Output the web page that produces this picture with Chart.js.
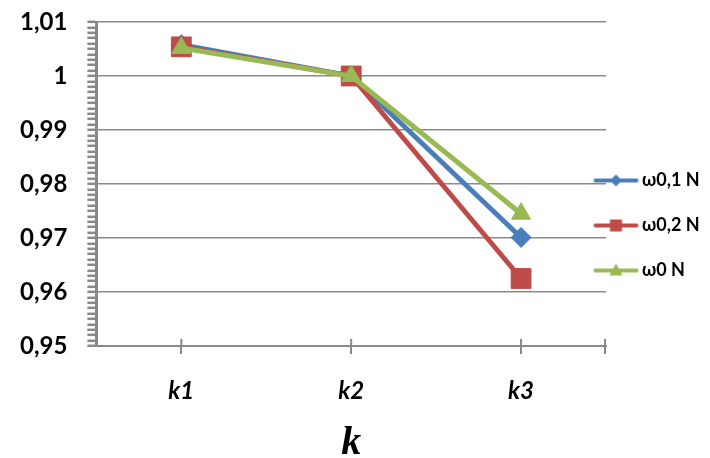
<!DOCTYPE html>
<html><head><meta charset="utf-8">
<script src="https://cdn.jsdelivr.net/npm/chart.js@4.4.1/dist/chart.umd.min.js"></script>
<style>html,body{margin:0;padding:0;background:#fff;overflow:hidden}</style>
</head><body>
<canvas id="c" width="710" height="458" style="display:block"></canvas>
<script>
const categories = ['k1', 'k2', 'k3'];
const seriesNames = ['ω0,1 N', 'ω0,2 N', 'ω0 N'];
const omega01 = [1.0058, 1.0000, 0.9701];
const omega02 = [1.0054, 1.0000, 0.9625];
const omega0  = [1.0052, 1.0000, 0.9745];
const yMin = 0.95, yMax = 1.01;
const yMajorStep = 0.01, yMinorStep = 0.001;
const xTitle = 'k';

const BLUE = '#4a7ebb', RED = '#be4b48', GREEN = '#98b954', GRID = '#898989';

function isMajor(v) { const r = v / yMajorStep; return Math.abs(r - Math.round(r)) < 1e-6; }
function fmt(v) { return String(Math.round(v * 100) / 100).replace('.', ','); }

function icon(color, style) {
  const c = document.createElement('canvas');
  c.width = 47; c.height = 24;
  const g = c.getContext('2d');
  g.strokeStyle = color; g.fillStyle = color; g.lineWidth = 4; g.lineCap = 'round';
  g.beginPath(); g.moveTo(3, 12); g.lineTo(44, 12); g.stroke();
  g.beginPath();
  if (style === 'diamond') { g.moveTo(23.5, 6); g.lineTo(29.5, 12); g.lineTo(23.5, 18); g.lineTo(17.5, 12); }
  else if (style === 'square') { g.rect(17.5, 6, 12, 12); }
  else { g.moveTo(23.5, 5); g.lineTo(30, 17); g.lineTo(17, 17); }
  g.closePath(); g.fill();
  return c;
}
const icons = [icon(BLUE, 'diamond'), icon(RED, 'square'), icon(GREEN, 'triangle')];

const legendShift = {
  id: 'legendShift',
  afterLayout(chart) {
    const l = chart.legend; const dx = -34, dy = -14.5;
    l.left += dx; l.top += dy; l.bottom += dy;
    l.width = l.right - l.left;
  }
};

// x-axis tick marks crossing the axis line, plus the closing tick at the right end
const crossTicks = {
  id: 'crossTicks',
  beforeDatasetsDraw(chart) {
    const xs = chart.scales.x, ca = chart.chartArea, ctx = chart.ctx;
    const pos = xs.ticks.map((t, i) => xs.getPixelForTick(i));
    ctx.save();
    ctx.strokeStyle = GRID; ctx.lineWidth = 2;
    ctx.beginPath();
    pos.forEach(p => { ctx.moveTo(p, ca.bottom - 7); ctx.lineTo(p, ca.bottom); });
    ctx.moveTo(ca.right - 1, ca.bottom - 7); ctx.lineTo(ca.right - 1, ca.bottom + 8);
    ctx.stroke();
    ctx.restore();
  }
};

function ds(label, data, color, style, radius, order) {
  return {
    label, data, borderColor: color, backgroundColor: color, borderWidth: 5,
    pointStyle: style, pointRadius: radius, pointHoverRadius: radius,
    pointBackgroundColor: color, pointBorderColor: color, pointBorderWidth: 1,
    tension: 0, order
  };
}

new Chart(document.getElementById('c'), {
  type: 'line',
  data: {
    labels: categories,
    datasets: [
      ds(seriesNames[0], omega01, BLUE, 'rectRot', 10, 3),
      ds(seriesNames[1], omega02, RED, 'rect', 14, 2),
      ds(seriesNames[2], omega0, GREEN, 'triangle', 11, 1)
    ]
  },
  options: {
    responsive: false, animation: false,
    layout: { padding: { left: 0, top: 22, right: 0, bottom: 0 } },
    plugins: {
      tooltip: { enabled: false },
      legend: {
        position: 'right', maxWidth: 104,
        labels: {
          usePointStyle: true, pointStyleWidth: 34, padding: 27, color: '#000',
          font: { family: 'Lato', weight: 'bold', size: 18 },
          sort: (a, b) => a.datasetIndex - b.datasetIndex,
          generateLabels(chart) {
            return chart.data.datasets.map((d, i) => ({
              text: d.label, datasetIndex: i, pointStyle: icons[i],
              fillStyle: d.borderColor, strokeStyle: d.borderColor, lineWidth: 0, fontColor: '#000', hidden: false
            }));
          }
        }
      }
    },
    scales: {
      x: {
        offset: true,
        grid: { offset: false, drawOnChartArea: false, color: GRID, tickLength: 8, lineWidth: 2 },
        border: { color: GRID, width: 2 },
        ticks: { padding: 23, color: '#000', font: { family: 'Lato', weight: 'bold', style: 'italic', size: 24 } },
        title: { display: true, text: xTitle, color: '#000', padding: { top: 0, bottom: 0 },
          font: { family: 'Liberation Serif', style: 'italic', weight: 'bold', size: 40, lineHeight: 0.73 } }
      },
      y: {
        min: yMin, max: yMax,
        afterFit(scale) { scale.paddingTop = 14; scale.paddingBottom = 14; },
        ticks: {
          stepSize: yMinorStep, autoSkip: false, padding: 20, color: '#000',
          font: { family: 'Lato', weight: 'bold', size: 24 },
          callback: v => isMajor(v) ? fmt(v) : ''
        },
        grid: {
          color: c => (c.tick && isMajor(c.tick.value)) ? GRID : 'rgba(0,0,0,0)',
          tickColor: GRID, tickLength: 9, lineWidth: 1.6, tickWidth: 2.5
        },
        border: { color: GRID, width: 3 }
      }
    }
  },
  plugins: [legendShift, crossTicks]
});
</script>
</body></html>
